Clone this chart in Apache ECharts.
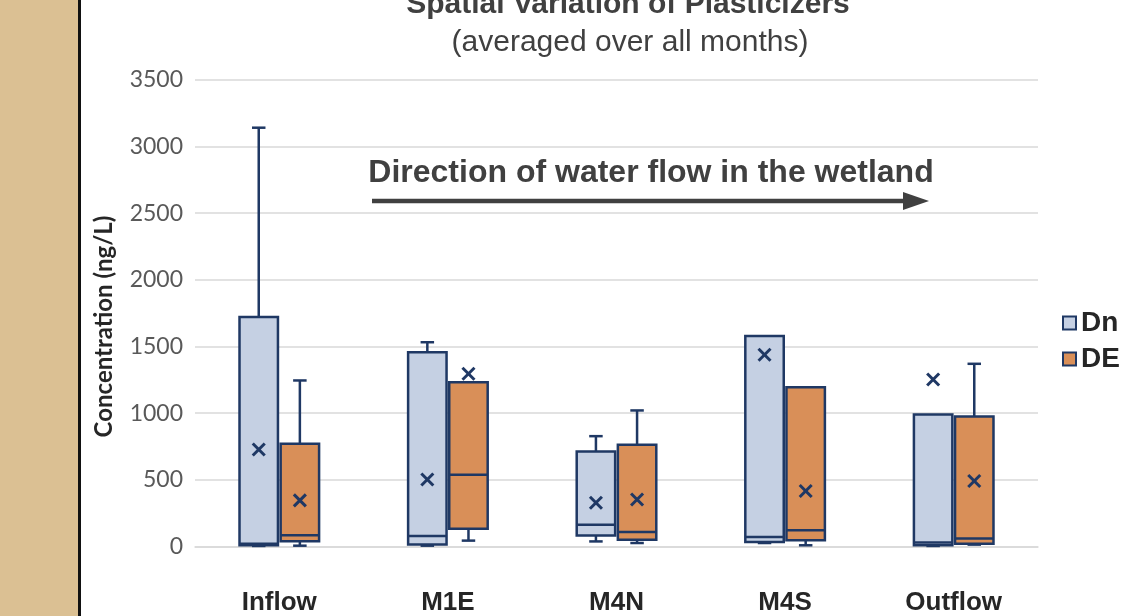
<!DOCTYPE html>
<html>
<head>
<meta charset="utf-8">
<script src="https://cdn.jsdelivr.net/npm/echarts@6/dist/echarts.min.js"></script>
<style>
html,body{margin:0;padding:0;background:#fff;}
#chart{width:1122px;height:616px;}
</style>
</head>
<body>
<div id="chart"></div>
<script>
var categories = ['Inflow', 'M1E', 'M4N', 'M4S', 'Outflow'];
var yTicks = [0, 500, 1000, 1500, 2000, 2500, 3000, 3500];

// Dn
var dnMin    = [3, 5, 37, 25, 3];
var dnQ1     = [8, 13, 82, 32, 8];
var dnMedian = [20, 77, 163, 70, 28];
var dnQ3     = [1722, 1457, 712, 1578, 990];
var dnMax    = [3142, 1532, 827, 1578, 990];
var dnMean   = [727, 502, 327, 1438, 1252];

// DE
var deMin    = [5, 43, 25, 8, 13];
var deQ1     = [38, 133, 50, 45, 20];
var deMedian = [83, 537, 108, 120, 58];
var deQ3     = [770, 1232, 762, 1195, 975];
var deMax    = [1245, 1232, 1020, 1195, 1370];
var deMean   = [345, 1295, 352, 415, 490];

var NAVY = '#1f3864';
var DN_FILL = '#c5d0e3';
var DE_FILL = '#d98f58';

function rows(mn, q1, md, q3, mx, mean) {
  return categories.map(function (c, i) { return [i, mn[i], q1[i], md[i], q3[i], mx[i], mean[i]]; });
}

function makeRender(offsetFrac, fill) {
  return function (params, api) {
    var idx = api.value(0);
    var band = api.size([1, 0])[0];
    var cx = api.coord([idx, 0])[0] + offsetFrac * band;
    var bw = band * 0.228;
    var cap = band * 0.08;
    var yMin = api.coord([idx, api.value(1)])[1];
    var yQ1 = api.coord([idx, api.value(2)])[1];
    var yMd = api.coord([idx, api.value(3)])[1];
    var yQ3 = api.coord([idx, api.value(4)])[1];
    var yMx = api.coord([idx, api.value(5)])[1];
    var yMean = api.coord([idx, api.value(6)])[1];
    var ls = { stroke: NAVY, lineWidth: 2.5 };
    var children = [];
    if (yMx < yQ3 - 0.5) {
      children.push({ type: 'line', shape: { x1: cx, y1: yQ3, x2: cx, y2: yMx }, style: ls });
      children.push({ type: 'line', shape: { x1: cx - cap / 2, y1: yMx, x2: cx + cap / 2, y2: yMx }, style: ls });
    }
    if (yMin > yQ1 + 0.5) {
      children.push({ type: 'line', shape: { x1: cx, y1: yQ1, x2: cx, y2: yMin }, style: ls });
      children.push({ type: 'line', shape: { x1: cx - cap / 2, y1: yMin, x2: cx + cap / 2, y2: yMin }, style: ls });
    }
    children.push({ type: 'rect', shape: { x: cx - bw / 2, y: yQ3, width: bw, height: yQ1 - yQ3 },
      style: { fill: fill, stroke: NAVY, lineWidth: 2.5 } });
    children.push({ type: 'line', shape: { x1: cx - bw / 2, y1: yMd, x2: cx + bw / 2, y2: yMd }, style: ls });
    var m = 6;
    var ms = { stroke: NAVY, lineWidth: 3 };
    children.push({ type: 'line', shape: { x1: cx - m, y1: yMean - m, x2: cx + m, y2: yMean + m }, style: ms });
    children.push({ type: 'line', shape: { x1: cx - m, y1: yMean + m, x2: cx + m, y2: yMean - m }, style: ms });
    return { type: 'group', children: children };
  };
}

var chart = echarts.init(document.getElementById('chart'));
chart.setOption({
  animation: false,
  backgroundColor: '#ffffff',
  grid: { left: 195, right: 84, top: 80, bottom: 43, containLabel: false },
  legend: {
    orient: 'vertical',
    left: 1057,
    top: 304,
    itemWidth: 13,
    itemHeight: 13,
    itemGap: 8,
    icon: 'rect',
    textStyle: { fontFamily: 'Liberation Sans', fontWeight: 'bold', fontSize: 28, color: '#262626', padding: [0, 0, 0, 0] },
    data: [
      { name: 'Dn', itemStyle: { color: DN_FILL, borderColor: NAVY, borderWidth: 2 } },
      { name: 'DE', itemStyle: { color: DE_FILL, borderColor: NAVY, borderWidth: 2 } }
    ]
  },
  xAxis: {
    type: 'category',
    data: categories,
    axisLine: { show: true, lineStyle: { color: '#d9d9d9', width: 1.5 } },
    axisTick: { show: false },
    axisLabel: { margin: 17, fontFamily: 'Liberation Sans', fontWeight: 'bold', fontSize: 26, color: '#262626' },
    splitLine: { show: false }
  },
  yAxis: {
    type: 'value',
    min: -200,
    max: 3500,
    name: 'Concentration (ng/L)',
    nameLocation: 'middle',
    nameGap: 79,
    nameTextStyle: { fontFamily: 'Lato', fontWeight: 'bold', fontSize: 24, color: '#262626' },
    axisLine: { show: false },
    axisTick: { show: false, customValues: yTicks },
    axisLabel: { customValues: yTicks, margin: 12, fontFamily: 'Lato', fontSize: 23, color: '#595959',
      formatter: function (v) { return String(v); } },
    splitLine: { show: true, lineStyle: { color: '#d9d9d9', width: 1.5 } }
  },
  graphic: [
    { type: 'rect', left: 0, top: 0, shape: { x: 0, y: 0, width: 78, height: 616 }, style: { fill: '#dbc093' }, z: 10 },
    { type: 'rect', left: 78, top: 0, shape: { x: 0, y: 0, width: 3, height: 616 }, style: { fill: '#111111' }, z: 10 },
    { type: 'text', x: 628, y: 5, style: { text: 'Spatial Variation of Plasticizers', font: 'bold 30px "Liberation Sans"', fill: '#404040', align: 'center', verticalAlign: 'middle' } },
    { type: 'text', x: 630, y: 43, style: { text: '(averaged over all months)', font: '30px "Liberation Sans"', fill: '#404040', align: 'center', verticalAlign: 'middle' } },
    { type: 'text', x: 651, y: 173, style: { text: 'Direction of water flow in the wetland', font: 'bold 32px "Liberation Sans"', fill: '#404040', align: 'center', verticalAlign: 'middle' } },
    { type: 'line', shape: { x1: 372, y1: 201, x2: 906, y2: 201 }, style: { stroke: '#404040', lineWidth: 4.5 } },
    { type: 'polygon', shape: { points: [[903, 192], [929, 201], [903, 210]] }, style: { fill: '#404040' } }
  ],
  series: [
    { name: 'Dn', type: 'custom', data: rows(dnMin, dnQ1, dnMedian, dnQ3, dnMax, dnMean),
      encode: { x: 0, y: [1, 2, 3, 4, 5, 6] }, itemStyle: { color: DN_FILL },
      renderItem: makeRender(-0.122, DN_FILL), z: 5 },
    { name: 'DE', type: 'custom', data: rows(deMin, deQ1, deMedian, deQ3, deMax, deMean),
      encode: { x: 0, y: [1, 2, 3, 4, 5, 6] }, itemStyle: { color: DE_FILL },
      renderItem: makeRender(0.122, DE_FILL), z: 5 }
  ]
});
</script>
</body>
</html>
